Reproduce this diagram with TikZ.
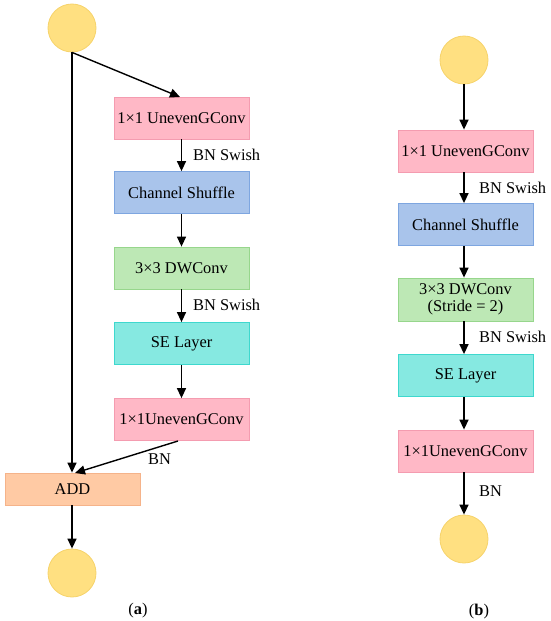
\documentclass[tikz,border=0pt]{standalone}
\usepackage{fontspec}
\setmainfont{Liberation Serif}
\usetikzlibrary{arrows.meta}
\definecolor{pinkf}{HTML}{FFB8C6}
\definecolor{pinkd}{HTML}{F49CB0}
\definecolor{bluef}{HTML}{A9C4EB}
\definecolor{blued}{HTML}{7EA6E0}
\definecolor{greenf}{HTML}{BDE8B5}
\definecolor{greend}{HTML}{97D68C}
\definecolor{cyanf}{HTML}{86E9E1}
\definecolor{cyand}{HTML}{3ED8CE}
\definecolor{orangef}{HTML}{FFCAA4}
\definecolor{oranged}{HTML}{F5B38A}
\definecolor{yellowf}{HTML}{FFE081}
\definecolor{yellowd}{HTML}{F6D36A}
\begin{document}
\begin{tikzpicture}[x=1pt,y=-1pt,
  font=\fontsize{16.4}{17.5}\selectfont,
  box/.style={rectangle,minimum width=135pt,minimum height=42pt,inner sep=1pt,line width=0.8pt,align=center},
  pinkbox/.style={box,fill=pinkf,draw=pinkd},
  bluebox/.style={box,fill=bluef,draw=blued},
  greenbox/.style={box,fill=greenf,draw=greend},
  cyanbox/.style={box,fill=cyanf,draw=cyand},
  addbox/.style={box,minimum height=32pt,fill=orangef,draw=oranged},
  io/.style={circle,minimum size=48pt,inner sep=0pt,fill=yellowf,draw=yellowd,line width=0.8pt},
  arr/.style={line width=1.4pt,-{Triangle[length=10pt,width=9pt]}},
  lbl/.style={anchor=west,inner sep=0pt}]
\useasboundingbox (0,0) rectangle (550,621);
% panel (a)
\node[io] (ain) at (72,28) {};
\node[pinkbox] (a1) at (181.5,118) {1×1 UnevenGConv};
\node[bluebox] (a2) at (181.5,192.5) {Channel Shuffle};
\node[greenbox] (a3) at (181.5,268) {3×3 DWConv};
\node[cyanbox] (a4) at (181.5,343.5) {SE Layer};
\node[pinkbox] (a5) at (181.5,419.5) {1×1UnevenGConv};
\node[addbox] (aadd) at (72.5,489) {ADD};
\node[io] (aout) at (72,573) {};
\coordinate (a1t) at (180,97);
\coordinate (a5b) at (178,441);
\coordinate (addt) at (75,473);
\draw[arr] (ain.south) -- (a1t);
\draw[arr] (ain.south) -- (ain.south |- aadd.north);
\draw[arr] (a1) -- (a2);
\draw[arr] (a2) -- (a3);
\draw[arr] (a3) -- (a4);
\draw[arr] (a4) -- (a5);
\draw[arr] (a5b) -- (addt);
\draw[arr] (aadd.south -| aout) -- (aout.north);
\node[lbl] (la1) at (193,155) {BN Swish};
\node[lbl] (la2) at (193,305) {BN Swish};
\node[lbl] (la3) at (148,459) {BN};
\node (capa) at (138,611) {(\textbf{a})};
% panel (b)
\node[io] (bin) at (464,60) {};
\node[pinkbox] (b1) at (465.5,151) {1×1 UnevenGConv};
\node[bluebox] (b2) at (465.5,224.5) {Channel Shuffle};
\node[greenbox,minimum height=43pt] (b3) at (465.5,299.5) {3×3 DWConv\\(Stride = 2)};
\node[cyanbox] (b4) at (465.5,375.5) {SE Layer};
\node[pinkbox] (b5) at (465.5,451) {1×1UnevenGConv};
\node[io] (bout) at (464,539) {};
\draw[arr] (bin.south) -- (bin.south |- b1.north);
\draw[arr] (b1.south -| bin) -- (b2.north -| bin);
\draw[arr] (b2.south -| bin) -- (b3.north -| bin);
\draw[arr] (b3.south -| bin) -- (b4.north -| bin);
\draw[arr] (b4.south -| bin) -- (b5.north -| bin);
\draw[arr] (b5.south -| bin) -- (bout.north);
\node[lbl] (lb1) at (479,188) {BN Swish};
\node[lbl] (lb2) at (479,337) {BN Swish};
\node[lbl] (lb3) at (479,491) {BN};
\node (capb) at (479,612) {(\textbf{b})};
\end{tikzpicture}
\end{document}
